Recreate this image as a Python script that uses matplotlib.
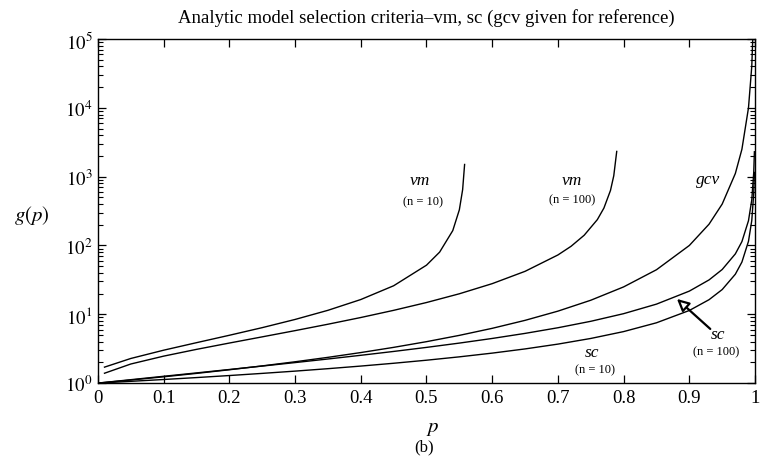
import matplotlib
matplotlib.use("Agg")
import matplotlib.pyplot as plt
from matplotlib.ticker import LogLocator, NullFormatter, FixedLocator

plt.rcParams['font.family'] = ['Liberation Serif', 'DejaVu Serif']
plt.rcParams['mathtext.fontset'] = 'stix'

# p values shared by gcv and sc curves
p_common = [0.0, 0.05, 0.1, 0.15, 0.2, 0.25, 0.3, 0.35, 0.4, 0.45, 0.5, 0.55,
            0.6, 0.65, 0.7, 0.75, 0.8, 0.85, 0.9, 0.93, 0.95, 0.97, 0.98,
            0.99, 0.995, 0.998, 0.999]

gcv = [1.0, 1.108, 1.235, 1.384, 1.5625, 1.778, 2.041, 2.367, 2.778, 3.306,
       4.0, 4.938, 6.25, 8.163, 11.11, 16.0, 25.0, 44.4, 100.0, 204.0, 400.0,
       1111.0, 2500.0, 10000.0, 40000.0, 250000.0, 1000000.0]

sc_n10 = [1.0, 1.061, 1.128, 1.203, 1.288, 1.384, 1.493, 1.620, 1.768, 1.942,
          2.151, 2.407, 2.727, 3.138, 3.686, 4.454, 5.605, 7.524, 11.36, 16.30,
          22.88, 38.23, 57.41, 115.0, 230.1, 575.5, 1151.0]

sc_n100 = [1.0, 1.121, 1.256, 1.406, 1.576, 1.768, 1.987, 2.240, 2.535, 2.884,
           3.303, 3.814, 4.454, 5.276, 6.373, 7.908, 10.21, 14.05, 21.72, 31.59,
           44.75, 75.45, 113.8, 229.0, 459.2, 1150.0, 2301.0]

# vm curves end where the bound diverges
p_vm10 = [0.01, 0.05, 0.1, 0.15, 0.2, 0.25, 0.3, 0.35, 0.4, 0.45, 0.5, 0.52,
          0.54, 0.55, 0.555, 0.558]
vm_n10 = [1.706, 2.279, 3.007, 3.867, 4.954, 6.395, 8.410, 11.42, 16.38, 25.97,
          51.71, 80.06, 164.5, 329.7, 646.8, 1503.0]

p_vm100 = [0.01, 0.05, 0.1, 0.15, 0.2, 0.25, 0.3, 0.35, 0.4, 0.45, 0.5, 0.55,
           0.6, 0.65, 0.7, 0.72, 0.74, 0.76, 0.77, 0.78, 0.785, 0.7895]
vm_n100 = [1.391, 1.894, 2.465, 3.091, 3.820, 4.698, 5.786, 7.169, 8.974, 11.41,
           14.82, 19.86, 27.87, 42.09, 72.78, 97.28, 140.9, 237.5, 349.7, 630.5,
           1031.0, 2326.0]

x_ticks = [0, 0.1, 0.2, 0.3, 0.4, 0.5, 0.6, 0.7, 0.8, 0.9, 1.0]
x_tick_labels = ['0', '0.1', '0.2', '0.3', '0.4', '0.5', '0.6', '0.7', '0.8', '0.9', '1']
y_ticks = [1e0, 1e1, 1e2, 1e3, 1e4, 1e5]
y_tick_labels = [r'$10^{0}$', r'$10^{1}$', r'$10^{2}$', r'$10^{3}$', r'$10^{4}$', r'$10^{5}$']

fig = plt.figure(figsize=(7.65, 4.6), dpi=100)
ax = fig.add_axes([0.128, 0.165, 0.859, 0.748])

for xs, ys in [(p_common, gcv), (p_common, sc_n10), (p_common, sc_n100),
               (p_vm10, vm_n10), (p_vm100, vm_n100)]:
    ax.plot(xs, ys, color='black', lw=1.0)

ax.set_yscale('log')
ax.set_xlim(0, 1)
ax.set_ylim(1, 1e5)

ax.xaxis.set_major_locator(FixedLocator(x_ticks))
ax.set_xticklabels(x_tick_labels)
ax.yaxis.set_major_locator(FixedLocator(y_ticks))
ax.set_yticklabels(y_tick_labels)
ax.yaxis.set_minor_locator(LogLocator(base=10, subs=range(2, 10), numticks=20))
ax.yaxis.set_minor_formatter(NullFormatter())

ax.tick_params(which='both', direction='in', top=True, right=True,
               labelsize=13.5, pad=4)
ax.tick_params(which='major', length=6, width=0.9)
ax.tick_params(which='minor', length=3.5, width=0.8)
for s in ax.spines.values():
    s.set_linewidth(1.0)

ax.set_title('Analytic model selection criteria\u2013vm, sc (gcv given for reference)',
             fontsize=13.5, pad=12)
ax.text(-0.1, 10 ** 2.45, r'$g(p)$', fontsize=15, ha='center', va='center')
ax.text(0.51, -0.13, r'$p$', transform=ax.transAxes, fontsize=15,
        ha='center', va='center')
ax.text(0.497, -0.185, '(b)', transform=ax.transAxes, fontsize=12,
        ha='center', va='center')

lab = dict(fontsize=12.5, style='italic', ha='center', va='center')
small = dict(fontsize=9, ha='center', va='center')
ax.text(0.49, 10 ** 2.95, 'vm', **lab)
ax.text(0.495, 10 ** 2.64, '(n = 10)', **small)
ax.text(0.722, 10 ** 2.95, 'vm', **lab)
ax.text(0.722, 10 ** 2.67, '(n = 100)', **small)
ax.text(0.928, 10 ** 2.97, 'gcv', **lab)
ax.text(0.943, 10 ** 0.71, 'sc', **lab)
ax.text(0.94, 10 ** 0.46, '(n = 100)', **small)
ax.text(0.752, 10 ** 0.45, 'sc', **lab)
ax.text(0.757, 10 ** 0.2, '(n = 10)', **small)

ax.annotate('', xy=(0.878, 10 ** 1.25), xytext=(0.935, 10 ** 0.76),
            arrowprops=dict(arrowstyle='-|>', fc='white', ec='black',
                            lw=1.6, mutation_scale=18))

fig.savefig('out.png', dpi=100)
